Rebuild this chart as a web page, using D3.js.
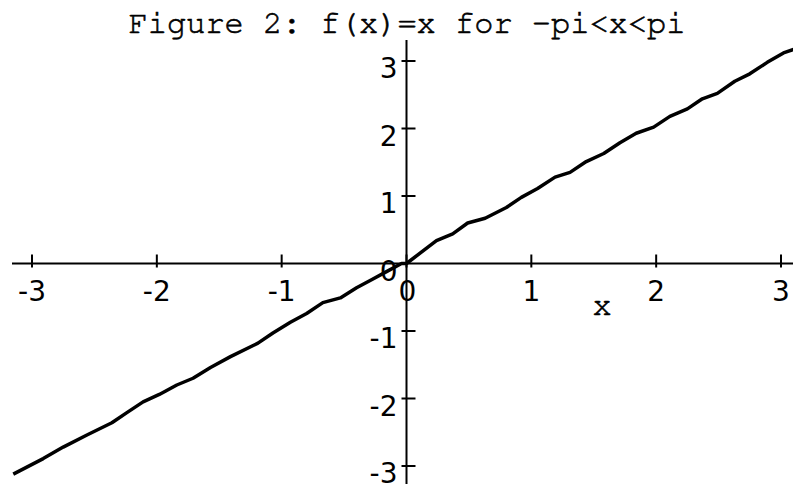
<!DOCTYPE html>
<html>
<head>
<meta charset="utf-8">
<script src="https://cdn.jsdelivr.net/npm/d3@7"></script>
<style>
body { margin: 0; background: #fff; }
svg { display: block; }
.mono { font-family: FreeMono, "Nimbus Mono PS", "Courier 10 Pitch", "DejaVu Sans Mono", monospace; font-size: 32px; stroke: #000; stroke-width: 0.6px; }
.sans { font-family: "DejaVu Sans", sans-serif; font-size: 28px; }
</style>
</head>
<body>
<svg width="793" height="484"></svg>
<script>
// points (x, f(x))
var xs = [-3.15, -2.91, -2.75, -2.56, -2.36, -2.24, -2.11, -1.98, -1.84, -1.71, -1.57, -1.41, -1.19, -1.07, -0.93, -0.80, -0.67, -0.53, -0.40, -0.28, -0.16, -0.04,
	0.00, 0.24, 0.37, 0.49, 0.63, 0.80, 0.92, 1.05, 1.19, 1.31, 1.44, 1.58, 1.71, 1.84, 1.98, 2.11, 2.25, 2.37, 2.49, 2.63, 2.75, 2.89, 3.02, 3.10];
var ys = [-3.12, -2.89, -2.72, -2.54, -2.36, -2.21, -2.05, -1.94, -1.80, -1.70, -1.54, -1.38, -1.18, -1.03, -0.87, -0.74, -0.58, -0.51, -0.36, -0.24, -0.12, 0.00,
	0.00, 0.34, 0.44, 0.60, 0.67, 0.83, 0.98, 1.11, 1.28, 1.35, 1.51, 1.63, 1.79, 1.93, 2.02, 2.18, 2.29, 2.44, 2.52, 2.70, 2.81, 2.98, 3.12, 3.17];
var xTicks = [-3, -2, -1, 0, 1, 2, 3];
var yTicks = [-3, -2, -1, 0, 1, 2, 3];
var title = "Figure 2: f(x)=x for -pi<x<pi";
var xLabel = "x";

var svg = d3.select("svg");
var width = +svg.attr("width");
var height = +svg.attr("height");

var x = d3.scaleLinear().domain([-3, 3]).range([32, 781]);
var y = d3.scaleLinear().domain([-3, 3]).range([466, 61]);

// x axis
var gx = svg.append("g").attr("transform", "translate(0," + y(0) + ")");
gx.append("line")
	.attr("x1", 12).attr("x2", width)
	.attr("stroke", "#000").attr("stroke-width", 2);
gx.selectAll(".xt")
	.data(xTicks)
	.enter().append("line")
	.attr("x1", d => x(d)).attr("x2", d => x(d))
	.attr("y1", -9).attr("y2", 4)
	.attr("stroke", "#000").attr("stroke-width", 2);
gx.selectAll(".xl")
	.data(xTicks)
	.enter().append("text")
	.attr("class", "sans")
	.attr("x", d => x(d) + (d == 0 ? 1 : 0))
	.attr("y", 37)
	.attr("text-anchor", "middle")
	.text(d => d);

// y axis
var gy = svg.append("g").attr("transform", "translate(" + x(0) + ",0)");
gy.append("line")
	.attr("y1", 40).attr("y2", height)
	.attr("stroke", "#000").attr("stroke-width", 2);
gy.selectAll(".yt")
	.data(yTicks.filter(d => d != 0))
	.enter().append("line")
	.attr("y1", d => y(d)).attr("y2", d => y(d))
	.attr("x1", -5).attr("x2", 9)
	.attr("stroke", "#000").attr("stroke-width", 2);
gy.selectAll(".yl")
	.data(yTicks)
	.enter().append("text")
	.attr("class", "sans")
	.attr("x", -9)
	.attr("y", d => y(d) + 17)
	.attr("text-anchor", "end")
	.text(d => d);

// the curve
var line = d3.line()
	.x(d => x(d[0]))
	.y(d => y(d[1]));
svg.append("path")
	.datum(d3.zip(xs, ys))
	.attr("d", line)
	.attr("fill", "none")
	.attr("stroke", "#000")
	.attr("stroke-width", 3.5)
	.attr("stroke-linejoin", "round");

// title and axis label
svg.append("text")
	.attr("class", "mono")
	.attr("x", 407)
	.attr("y", 33)
	.attr("text-anchor", "middle")
	.text(title);

svg.append("text")
	.attr("class", "mono")
	.attr("x", 602)
	.attr("y", 315)
	.attr("text-anchor", "middle")
	.text(xLabel);
</script>
</body>
</html>
